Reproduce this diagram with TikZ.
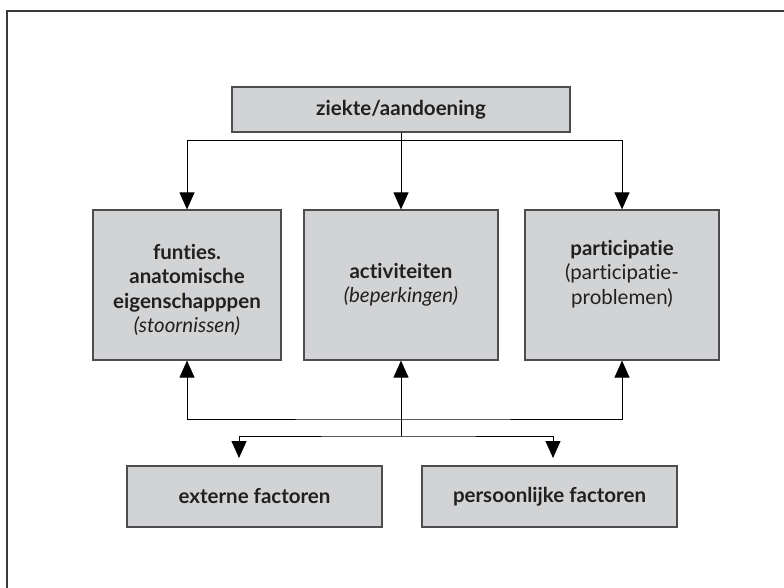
\documentclass[tikz,border=0pt]{standalone}
\usepackage{fontspec}
\setmainfont{Lato}[Ligatures=NoCommon]
\usetikzlibrary{arrows.meta}
\definecolor{boxfill}{HTML}{D1D3D4}
\definecolor{boxline}{HTML}{4D4D4F}
\definecolor{ink}{HTML}{231F20}
\definecolor{frameline}{HTML}{3A3A3A}
\begin{document}
\begin{tikzpicture}[x=1pt,y=-1pt,
  box/.style={draw=boxline, fill=boxfill, line width=1.2pt, inner sep=0pt, text=ink,
    font=\fontsize{20.5}{24}\selectfont\bfseries},
  txt/.style={align=center, text=ink, inner sep=0pt, font=\fontsize{20.5}{24.5}\selectfont},
  conn/.style={draw=black, line width=1pt},
  arr/.style={conn, -{Triangle[width=15pt,length=17pt]}},
  arrboth/.style={conn, {Triangle[width=15pt,length=17pt]}-{Triangle[width=15pt,length=17pt]}}]
\useasboundingbox (0,0) rectangle (784,588);
\draw[frameline, line width=1.6pt] (7,600) -- (7,11) -- (800,11);

\node[box, minimum width=338pt, minimum height=45pt] (top) at (401,109.5) {ziekte/aandoening};
\node[box, minimum width=188pt, minimum height=150pt] (func) at (187,285) {};
\node[box, minimum width=194pt, minimum height=150pt] (act) at (401,285) {};
\node[box, minimum width=194pt, minimum height=150pt] (part) at (622,285) {};
\node[box, minimum width=255pt, minimum height=61pt] (ext) at (254.5,496.5) {externe factoren};
\node[box, minimum width=255pt, minimum height=61pt] (pers) at (549.5,496.5) {persoonlijke factoren};

\node[txt] (functxt) at (func.center) [yshift=-5pt] {\textbf{funties.}\\\textbf{anatomische}\\\textbf{eigenschapppen}\\\textit{(stoornissen)}};
\node[txt] (acttxt) at (act.center) {\textbf{activiteiten}\\\textit{(beperkingen)}};
\node[txt] (parttxt) at (part.center) [yshift=11pt] {\textbf{participatie}\\(participatie-\\problemen)};

\coordinate (h1) at (401,141);
\draw[arr] (top.south) -- (h1) -| (func.north);
\draw[arr] (top.south) -- (h1) -| (part.north);
\draw[arr] (top.south) -- (act.north);

\coordinate (h2) at (401,419);
\draw[arrboth] (func.south) |- (h2) -| (part.south);
\coordinate (h3) at (401,436);
\draw[arr] (h3) -- (act.south);
\coordinate (ea) at (239,458);
\coordinate (pa) at (553,458);
\draw[arrboth] (ea) |- (h3) -| (pa);
\end{tikzpicture}
\end{document}
